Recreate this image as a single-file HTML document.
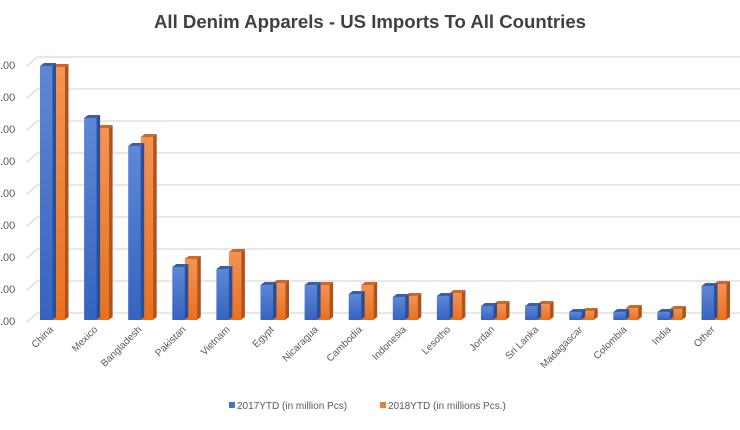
<!DOCTYPE html>
<html><head><style>
body{margin:0;background:#fff;}
svg text{font-family:"Liberation Sans",sans-serif;}
</style></head><body>
<svg width="740" height="425" viewBox="0 0 740 425" xmlns="http://www.w3.org/2000/svg">
<defs>
<linearGradient id="gb" x1="0" y1="0" x2="0" y2="1"><stop offset="0" stop-color="#5f87d6"/><stop offset="1" stop-color="#3563c0"/></linearGradient>
<linearGradient id="go" x1="0" y1="0" x2="0" y2="1"><stop offset="0" stop-color="#f59255"/><stop offset="1" stop-color="#e8711e"/></linearGradient>
</defs>
<text x="370" y="28" text-anchor="middle" font-size="18" font-weight="bold" fill="#404040" textLength="432" lengthAdjust="spacingAndGlyphs">All Denim Apparels - US Imports To All Countries</text>
<g id="grid" stroke="#d9d9d9" stroke-width="1.2" fill="none"></g>
<g id="ylab" font-size="11" fill="#595959"></g>
<g id="bars"></g>
<g id="xlab" font-size="10" fill="#595959"></g>
<rect x="229" y="402" width="6" height="6" fill="#4472c4"/>
<text x="237" y="409" font-size="10" fill="#595959">2017YTD  (in million Pcs)</text>
<rect x="380" y="402" width="6" height="6" fill="#ed7d31"/>
<text x="388" y="409" font-size="10" fill="#595959">2018YTD  (in millions Pcs.)</text>
</svg>
<script>
const ns="http://www.w3.org/2000/svg";
function el(p,t,a,txt){const e=document.createElementNS(ns,t);for(const k in a)e.setAttribute(k,a[k]);if(txt)e.textContent=txt;document.getElementById(p).appendChild(e);}
for(let i=0;i<9;i++){const y=65+i*32;
 el("grid","path",{d:`M27 ${y+1} L37 ${y-8} L740 ${y-8}`});
 el("ylab","text",{x:0,y:y+4},".00");}
const cats=["China","Mexico","Bangladesh","Pakistan","Vietnam","Egypt","Nicaragua","Cambodia","Indonesia","Lesotho","Jordan","Sri Lanka","Madagascar","Colombia","India","Other"];
const b=[66,118,146,267,269,285,285,294,297,296,306,306,312,312,312,286];
const o=[67,128,137,259,252,283,285,285,296,293,304,304,311,308,309,284];
const base=320;
function bar(x,top,fill,side,topc){
 el("bars","polygon",{points:`${x+12},${top} ${x+16},${top-3} ${x+16},${base-3} ${x+12},${base}`,fill:side});
 el("bars","polygon",{points:`${x},${top} ${x+4},${top-3} ${x+16},${top-3} ${x+12},${top}`,fill:topc});
 el("bars","rect",{x:x,y:top,width:12.5,height:base-top,fill:fill});
}
cats.forEach((c,i)=>{const x=40+i*44.1;
 bar(x+12.5,o[i],"url(#go)","#b0531a","#c86a2c");
 bar(x,b[i],"url(#gb)","#2b4f94","#3a5fa8");
 const cx=x+14;
 el("xlab","text",{x:cx,y:330,"text-anchor":"end",transform:`rotate(-45 ${cx} 330)`},c);
});
</script>
</body></html>
